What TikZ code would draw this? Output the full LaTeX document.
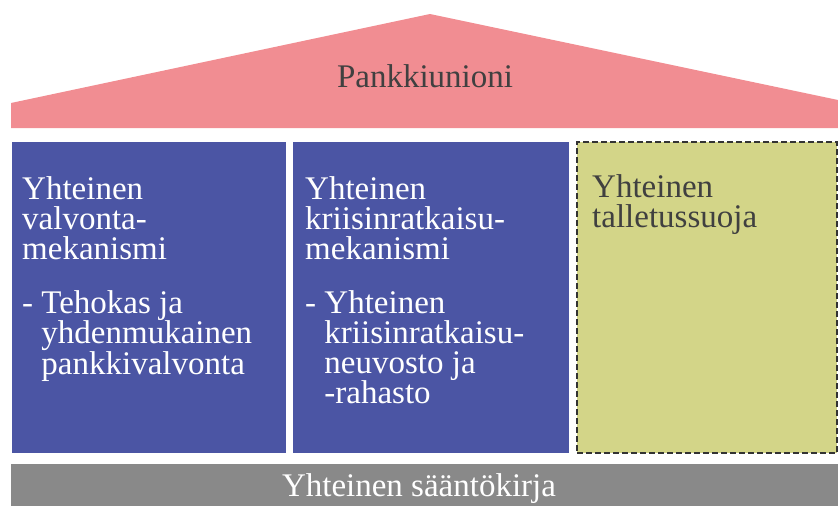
\documentclass[tikz,border=0pt]{standalone}
\usepackage{fontspec}
\setmainfont{Liberation Serif}
\definecolor{roofpink}{HTML}{F18D92}
\definecolor{pillarblue}{HTML}{4B55A4}
\definecolor{pillarolive}{HTML}{D3D588}
\definecolor{basegray}{HTML}{898989}
\definecolor{darktext}{HTML}{404040}
\definecolor{dashgray}{HTML}{333333}
\begin{document}
\begin{tikzpicture}[x=1pt,y=-1pt,
    pillar/.style={fill=pillarblue,minimum width=#1,minimum height=311pt,inner sep=0pt},
    label/.style={anchor=north west,inner sep=0pt,align=left,font=\fontsize{33}{30}\selectfont},
    big/.style={inner sep=0pt,font=\fontsize{33}{30}\selectfont}]

    \useasboundingbox (0,0) rectangle (838,506);

    \fill[roofpink] (11,128) -- (11,103) -- (430,14) -- (838,100) -- (838,128) -- cycle;
    \node[big,text=darktext] (roof) at (425,76) {Pankkiunioni};

    \node[pillar=274pt] (valvonta) at (149,297.5) {};
    \node[pillar=276pt] (kriisi) at (431,297.5) {};
    \node[pillar=260pt,fill=pillarolive,draw=dashgray,line width=2.5pt,dash pattern=on 6pt off 3pt] (talletus) at (707,297.5) {};

    \node[label,text=white] (valvontatext) at (22,176) {Yhteinen\\valvonta-\\mekanismi\\[24pt]- Tehokas ja\\\phantom{- }yhdenmukainen\\\phantom{- }pankkivalvonta};
    \node[label,text=white] (kriisitext) at (305,176) {Yhteinen\\kriisinratkaisu-\\mekanismi\\[24pt]- Yhteinen\\\phantom{- }kriisinratkaisu-\\\phantom{- }neuvosto ja\\\phantom{- }-rahasto};
    \node[label,text=darktext] (talletustext) at (592,174) {Yhteinen\\talletussuoja};

    \fill[basegray] (11,464) rectangle (838,506);
    \node[big,text=white] (saanto) at (419,489) {Yhteinen sääntökirja};
\end{tikzpicture}
\end{document}
